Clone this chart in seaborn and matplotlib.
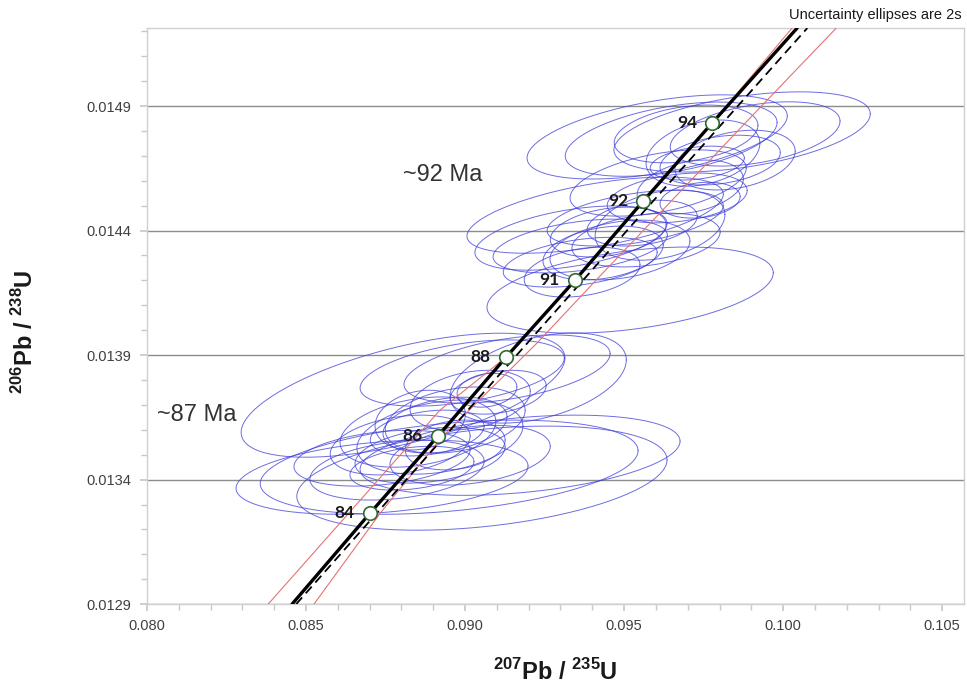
import numpy as np
import pandas as pd
import matplotlib
matplotlib.use("Agg")
import matplotlib.pyplot as plt
import seaborn as sns
from matplotlib.ticker import MultipleLocator, FixedLocator, FormatStrFormatter

# %%
# data
# --------------------------------
# concordia (thick black) through the age marks
conc_x = [0.08456, 0.08701, 0.08915, 0.09129, 0.09346, 0.09560, 0.09777, 0.10044]
conc_y = [0.01290, 0.013265, 0.013575, 0.013892, 0.014201, 0.014518, 0.014832, 0.015213]

# age marks on the concordia
ages = [84, 86, 88, 91, 92, 94]
age_x = [0.08701, 0.08915, 0.09129, 0.09346, 0.09560, 0.09777]
age_y = [0.013265, 0.013575, 0.013892, 0.014201, 0.014518, 0.014832]

# dashed line
dash_x = [0.08469, 0.08937, 0.09591, 0.10076]
dash_y = [0.01290, 0.013575, 0.014518, 0.015213]

# red envelope lines (left one runs under the concordia in its upper part)
red_left_x = [0.08381, 0.08921, 0.09129, 0.09346, 0.09560, 0.09777, 0.10028]
red_left_y = [0.01290, 0.013679, 0.013892, 0.014201, 0.014518, 0.014832, 0.015213]
red_right_x = [0.08525, 0.08733, 0.08931, 0.09226, 0.09412, 0.09648, 0.09881, 0.10167]
red_right_y = [0.01290, 0.013265, 0.013575, 0.013948, 0.014201, 0.014518, 0.014832, 0.015213]

# y ticks of the reference
y_ticks = [0.0129, 0.0134, 0.0139, 0.0144, 0.0149]

# uncertainty ellipses (2s): centre, half width, half height, correlation
ell_x = [0.09604, 0.09648, 0.09871, 0.09695, 0.09912, 0.09748, 0.09730, 0.09607,
         0.09667, 0.09409, 0.09535, 0.09450, 0.09557, 0.09333, 0.09362, 0.09362,
         0.09368, 0.09434, 0.09519, 0.09569, 0.09708, 0.09739, 0.09802,
         0.09487, 0.09613, 0.09849,
         0.08805, 0.08991, 0.09132, 0.09230, 0.08739, 0.08950, 0.09053, 0.08852,
         0.08921, 0.08881, 0.08937, 0.08739, 0.08786, 0.08833, 0.09104, 0.09069,
         0.08859, 0.08969, 0.08796, 0.09016, 0.09173,
         0.08969, 0.09016, 0.08890]
ell_y = [0.014776, 0.014767, 0.014796, 0.014788, 0.014788, 0.014711, 0.014671, 0.014591,
         0.014531, 0.014462, 0.014450, 0.014394, 0.014430, 0.014370, 0.014338, 0.014273,
         0.014233, 0.014310, 0.014161, 0.014362, 0.014575, 0.014522, 0.014683,
         0.014322, 0.014422, 0.014683,
         0.013739, 0.013828, 0.013844, 0.013808, 0.013410, 0.013450, 0.013406, 0.013591,
         0.013571, 0.013587, 0.013619, 0.013486, 0.013438, 0.013446, 0.013751, 0.013759,
         0.013639, 0.013539, 0.013539, 0.013498, 0.013498,
         0.013639, 0.013719, 0.013498]
ell_sx = [0.00409, 0.00333, 0.00403, 0.00226, 0.00267, 0.00179, 0.00148, 0.00277,
          0.00220, 0.00403, 0.00277, 0.00182, 0.00173, 0.00302, 0.00274, 0.00242,
          0.00182, 0.00189, 0.00450, 0.00233, 0.00167, 0.00126, 0.00189,
          0.00220, 0.00204, 0.00189,
          0.00509, 0.00321, 0.00324, 0.00277, 0.00459, 0.00594, 0.00582, 0.00245,
          0.00261, 0.00179, 0.00195, 0.00277, 0.00274, 0.00195, 0.00151, 0.00094,
          0.00142, 0.00157, 0.00220, 0.00252, 0.00503,
          0.00220, 0.00189, 0.00236]
ell_sy = [0.000169, 0.000149, 0.000161, 0.000116, 0.000129, 0.000133, 0.000068, 0.000133,
          0.000100, 0.000153, 0.000112, 0.000100, 0.000092, 0.000129, 0.000108, 0.000100,
          0.000100, 0.000108, 0.000173, 0.000108, 0.000108, 0.000072, 0.000100,
          0.000120, 0.000141, 0.000120,
          0.000249, 0.000133, 0.000137, 0.000181, 0.000149, 0.000189, 0.000209, 0.000141,
          0.000149, 0.000092, 0.000112, 0.000112, 0.000120, 0.000088, 0.000088, 0.000068,
          0.000120, 0.000100, 0.000120, 0.000120, 0.000161,
          0.000133, 0.000120, 0.000112]
ell_rho = [0.5, 0.45, 0.45, 0.3, 0.4, 0.3, 0.3, 0.45,
           0.3, 0.55, 0.45, 0.3, 0.3, 0.45, 0.4, 0.4,
           0.3, 0.3, 0.4, 0.3, 0.3, 0.2, 0.3,
           0.3, 0.3, 0.3,
           0.6, 0.45, 0.45, 0.4, 0.3, 0.35, 0.35, 0.3,
           0.3, 0.3, 0.3, 0.3, 0.3, 0.3, 0.3, 0.2,
           0.2, 0.2, 0.3, 0.3, 0.35,
           0.3, 0.3, 0.3]

# %%
# ellipse outlines -> long dataframe
# --------------------------------
t = np.linspace(0, 2 * np.pi, 181)
rows = []
for i in range(len(ell_x)):
    r = ell_rho[i]
    ex = ell_x[i] + ell_sx[i] * np.cos(t)
    ey = ell_y[i] + ell_sy[i] * (r * np.cos(t) + np.sqrt(1 - r ** 2) * np.sin(t))
    rows.append(pd.DataFrame({"x": ex, "y": ey, "id": i}))
ell_df = pd.concat(rows, ignore_index=True)

# %%
# plot
# --------------------------------
sns.set_theme(style="white")
plt.rcParams["font.family"] = ["Liberation Sans", "DejaVu Sans"]
plt.rcParams["mathtext.fontset"] = "custom"
plt.rcParams["mathtext.rm"] = "Liberation Sans:bold"
plt.rcParams["mathtext.bf"] = "Liberation Sans:bold"

fig = plt.figure(figsize=(9.67, 6.85), dpi=100)
ax = fig.add_axes([0.152, 0.118, 0.845, 0.841])

sns.lineplot(data=ell_df, x="x", y="y", units="id", estimator=None, sort=False,
             color="#3c3cd8", lw=0.7, alpha=0.75, ax=ax, zorder=2)
sns.lineplot(x=red_left_x, y=red_left_y, sort=False, color="#e57373", lw=0.8, ax=ax, zorder=3)
sns.lineplot(x=red_right_x, y=red_right_y, sort=False, color="#e57373", lw=0.8, ax=ax, zorder=3)
sns.lineplot(x=dash_x, y=dash_y, sort=False, color="black", lw=1.3,
             linestyle=(0, (5, 3)), ax=ax, zorder=4)
sns.lineplot(x=conc_x, y=conc_y, sort=False, color="black", lw=2.4, ax=ax, zorder=4)
sns.scatterplot(x=age_x, y=age_y, s=95, color="white", edgecolor="#2f6b2f",
                linewidth=1.2, ax=ax, zorder=5)

for a, xx, yy in zip(ages, age_x, age_y):
    ax.annotate(str(a), (xx, yy), xytext=(-11, 0), textcoords="offset points",
                ha="right", va="center", fontsize=12.5, fontweight="bold",
                color="#1a1a1a", family=["Lato", "DejaVu Sans"])

ax.text(0.08805, 0.014623, "~92 Ma", fontsize=17, color="#333333", va="center", ha="left")
ax.text(0.08031, 0.013659, "~87 Ma", fontsize=17, color="#333333", va="center", ha="left")

ax.set_xlim(0.080, 0.10569)
ax.set_ylim(0.0129, 0.015213)
ax.xaxis.set_major_locator(MultipleLocator(0.005))
ax.xaxis.set_minor_locator(MultipleLocator(0.001))
ax.yaxis.set_major_locator(FixedLocator(y_ticks))
ax.yaxis.set_minor_locator(FixedLocator(np.arange(0.0129, 0.01521, 0.0001)))
ax.xaxis.set_major_formatter(FormatStrFormatter("%.3f"))
ax.yaxis.set_major_formatter(FormatStrFormatter("%.4f"))
ax.yaxis.grid(True, which="major", color="#8c8c8c", lw=1)
ax.xaxis.grid(False)
for s in ax.spines.values():
    s.set_color("#d0d0d0")
    s.set_linewidth(1)
ax.tick_params(axis="both", which="both", direction="out", bottom=True, left=True,
               color="#c8c8c8", labelcolor="#404040", labelsize=10.5)
ax.tick_params(which="major", length=5, pad=6)
ax.tick_params(which="minor", length=4)
ax.set_xlabel("")
ax.set_ylabel("")

fig.text(555 / 967, 1 - 672 / 685, r"$^{207}$Pb / $^{235}$U", ha="center", va="center",
         fontsize=17, fontweight="bold", color="#1a1a1a")
fig.text(25 / 967, 1 - 332 / 685, r"$^{206}$Pb / $^{238}$U", ha="center", va="center",
         rotation=90, fontsize=17, fontweight="bold", color="#1a1a1a")
fig.text(962 / 967, 1 - 15 / 685, "Uncertainty ellipses are 2s", ha="right", va="center",
         fontsize=10.5, color="#1a1a1a")

fig.savefig("out.png", dpi=100)
